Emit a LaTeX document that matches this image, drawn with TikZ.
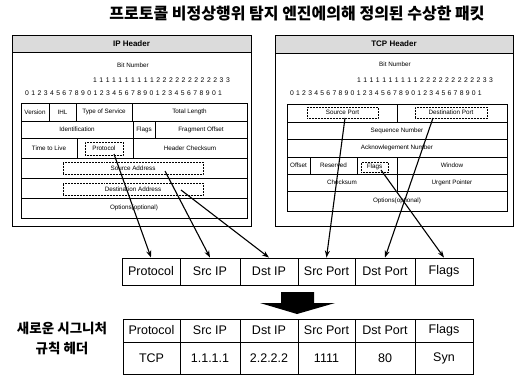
\documentclass[tikz,border=0pt]{standalone}
\usepackage{fontspec}
\setmainfont{Liberation Sans}
\newfontfamily\kr{Noto Sans CJK KR}
\usetikzlibrary{arrows.meta}
\newcommand\mycell[7][]{%
  \node[cell,#1,minimum width={#5-#3},minimum height={#6-#4}] (#2) at ({(#3+#5)/2},{(#4+#6)/2}) {#7};}
\begin{document}
\begin{tikzpicture}[x=1pt,y=-1pt,
  cell/.style={draw,line width=0.5pt,inner sep=0pt,font=\fontsize{6.3}{7}\selectfont},
  dotbox/.style={densely dotted,line width=0.7pt},
  outer/.style={line width=0.9pt,font=\fontsize{8}{9}\selectfont},
  hdr/.style={fill=black!14,line width=0.8pt,font=\bfseries\fontsize{8}{9}\selectfont},
  big/.style={line width=0.9pt,font=\fontsize{12.5}{13}\selectfont},
  digit/.style={inner sep=0pt,font=\fontsize{6.8}{7}\selectfont},
  small/.style={inner sep=0pt,font=\fontsize{6.3}{7}\selectfont},
  conn/.style={line width=1.1pt,-{Stealth[length=7pt,width=5pt]}}]
\useasboundingbox (0,0) rectangle (520,376);
\fill[white] (0,0) rectangle (520,376);
% title
\node[inner sep=0pt,font=\kr\bfseries\fontsize{16}{18}\selectfont] (title) at (297,14) {프로토콜 비정상행위 탐지 엔진에의해 정의된 수상한 패킷};
% ---------- IP header ----------
\mycell[outer]{ipbox}{12}{35}{251}{226}{}
\mycell[hdr]{iphdr}{12}{35}{251}{52}{IP Header}
\node[small] (ipbit) at (133,65) {Bit Number};
\foreach \i in {0,...,21}{\pgfmathtruncatemacro\d{1+floor(\i/10)}\node[digit] (ipa\i) at ({95+\i*6.33},80) {\d};}
\foreach \i in {0,...,31}{\pgfmathtruncatemacro\d{mod(\i,10)}\node[digit] (ipb\i) at ({27+\i*6.23},93) {\d};}
\mycell{ver}{21}{103}{49}{121}{Version}
\mycell{ihl}{49}{103}{76}{121}{IHL}
\mycell{tos}{76}{103}{132}{121}{Type of Service}
\mycell{tlen}{132}{103}{247}{121}{Total Length}
\mycell{ident}{21}{121}{133}{138}{Identification}
\mycell{ipflags}{133}{121}{155}{138}{Flags}
\mycell{frag}{155}{121}{247}{138}{Fragment Offset}
\mycell{ttl}{21}{138}{77}{158}{Time to Live}
\mycell{protocell}{77}{138}{133}{158}{}
\mycell[dotbox]{proto}{85}{142}{123}{155}{Protocol}
\mycell{hcs}{133}{138}{247}{158}{Header Checksum}
\mycell{srccell}{21}{158}{247}{178}{}
\mycell[dotbox]{srcaddr}{63}{162}{203}{174}{Source Address}
\mycell{dstcell}{21}{178}{247}{198}{}
\mycell[dotbox]{dstaddr}{63}{183}{203}{195}{Destination Address}
\mycell{ipopt}{21}{198}{247}{218}{Options(optional)}
% ---------- TCP header ----------
\mycell[outer]{tcpbox}{275}{35}{513}{226}{}
\mycell[hdr]{tcphdr}{275}{35}{513}{53}{TCP Header}
\node[small] (tcpbit) at (395,64) {Bit Number};
\foreach \i in {0,...,21}{\pgfmathtruncatemacro\d{1+floor(\i/10)}\node[digit] (tca\i) at ({359+\i*6.29},80) {\d};}
\foreach \i in {0,...,31}{\pgfmathtruncatemacro\d{mod(\i,10)}\node[digit] (tcb\i) at ({292+\i*6.06},93) {\d};}
\mycell{spcell}{287}{104}{397}{122}{}
\mycell[dotbox]{sport}{307}{107}{378}{118}{Source Port}
\mycell{dpcell}{397}{104}{507}{122}{}
\mycell[dotbox]{dport}{415}{107}{487}{118}{Destination Port}
\mycell{seq}{287}{122}{507}{139}{Sequence Number}
\mycell{ack}{287}{139}{507}{157}{Acknowlegement Number}
\mycell{off}{287}{157}{310}{174}{Offset}
\mycell{res}{310}{157}{357}{174}{Reserved}
\mycell{flcell}{357}{157}{397}{174}{}
\mycell[dotbox]{tflags}{361}{162}{388}{172}{Flags}
\mycell{win}{397}{157}{507}{174}{Window}
\mycell{tcs}{287}{174}{397}{191}{Checksum}
\mycell{urg}{397}{174}{507}{191}{Urgent Pointer}
\mycell{tcpopt}{287}{191}{507}{211}{Options(optional)}
% ---------- extracted fields ----------
\mycell[big]{fproto}{122}{258}{180}{285}{Protocol}
\mycell[big]{fsip}{180}{258}{240}{285}{Src IP}
\mycell[big]{fdip}{240}{258}{298}{285}{Dst IP}
\mycell[big]{fsport}{298}{258}{355}{285}{Src Port}
\mycell[big]{fdport}{355}{258}{415}{285}{Dst Port}
\mycell[big]{fflags}{415}{258}{473}{285}{Flags}
% big arrow
\fill (281,292) -- (314,292) -- (314,303) -- (335,303) -- (297,314) -- (260,303) -- (281,303) -- cycle;
% ---------- new signature ----------
\node[inner sep=0pt,align=center,font=\kr\bfseries\fontsize{13.5}{20}\selectfont] (lab) at (62,338) {새로운 시그니처\\규칙 헤더};
\mycell[big]{hproto}{123}{319}{180}{342}{Protocol}
\mycell[big]{hsip}{180}{319}{240}{342}{Src IP}
\mycell[big]{hdip}{240}{319}{298}{342}{Dst IP}
\mycell[big]{hsport}{298}{319}{355}{342}{Src Port}
\mycell[big]{hdport}{355}{319}{415}{342}{Dst Port}
\mycell[big]{hflags}{415}{319}{473}{342}{Flags}
\mycell[big]{vproto}{123}{342}{180}{374}{TCP}
\mycell[big]{vsip}{180}{342}{240}{374}{1.1.1.1}
\mycell[big]{vdip}{240}{342}{298}{374}{2.2.2.2}
\mycell[big]{vsport}{298}{342}{355}{374}{1111}
\mycell[big]{vdport}{355}{342}{415}{374}{80}
\mycell[big]{vflags}{415}{342}{473}{374}{Syn}
% ---------- connectors ----------
\coordinate (c1) at (114,154);
\coordinate (c2) at (165,171);
\coordinate (c3) at (181,190);
\coordinate (c4) at (345,118);
\coordinate (c5) at (433,118);
\coordinate (c6) at (381,170);
\draw[conn] (c1) -- (fproto.north);
\draw[conn] (c2) -- (fsip.north);
\draw[conn] (c3) -- (fdip.north);
\draw[conn] (c4) -- (fsport.north);
\draw[conn] (c5) -- (fdport.north);
\draw[conn] (c6) -- (fflags.north);
\end{tikzpicture}
\end{document}
